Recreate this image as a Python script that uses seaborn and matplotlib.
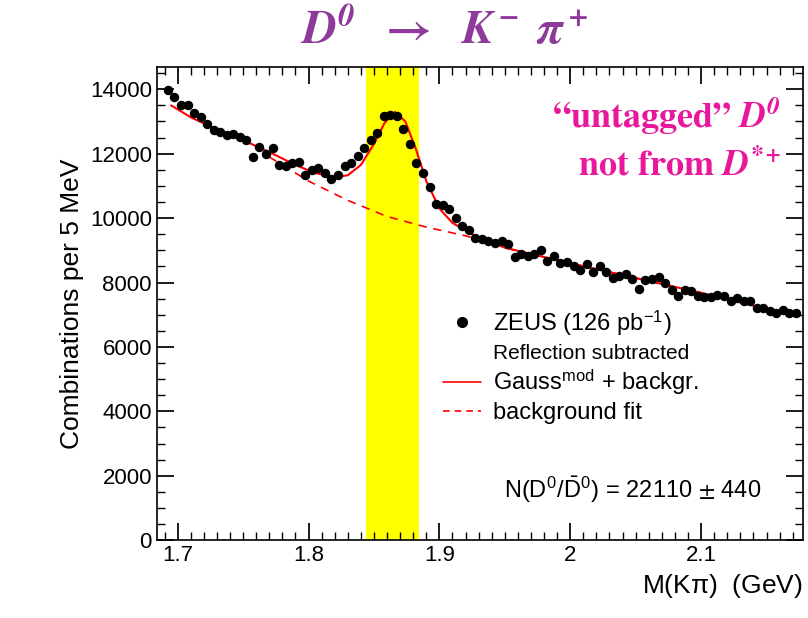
import numpy as np
import matplotlib
matplotlib.use('Agg')
import matplotlib.pyplot as plt
import seaborn as sns
from matplotlib.lines import Line2D
from matplotlib.ticker import MultipleLocator

sns.set_theme(style='ticks')
plt.rcParams['font.family'] = ['Liberation Sans', 'DejaVu Sans']
plt.rcParams['mathtext.fontset'] = 'stix'
plt.rcParams['text.color'] = 'black'
plt.rcParams['axes.labelcolor'] = 'black'
plt.rcParams['xtick.color'] = 'black'
plt.rcParams['ytick.color'] = 'black'
plt.rcParams['axes.edgecolor'] = 'black'

# data: 5 MeV bins
mass = 1.6925 + 0.005 * np.arange(97)
counts = [13978, 13760, 13502, 13502, 13253, 13150, 12932, 12745, 12662, 12590,
          12621, 12506, 12434, 11905, 12195, 11998, 12185, 11656, 11604, 11718,
          11729, 11324, 11490, 11542, 11407, 11200, 11345, 11614, 11697, 11925,
          12164, 12413, 12652, 13170, 13190, 13170, 12776, 12289, 11718, 11407,
          10972, 10432, 10400, 10298, 10007, 9748, 9634, 9395,
          9354, 9281, 9229, 9302, 9198, 8784, 8898, 8815, 8898, 9001,
          8680, 8815, 8607, 8628, 8504, 8379, 8586, 8317, 8524, 8317,
          8141, 8213, 8275, 8110, 7809, 8089, 8120, 8172, 7985, 7756,
          7591, 7756, 7726, 7570, 7550, 7550, 7622, 7591, 7414, 7518,
          7414, 7435, 7207, 7207, 7104, 7052, 7155, 7052, 7052]

fit_x = [1.695, 1.71, 1.73, 1.75, 1.77, 1.79, 1.805, 1.82, 1.83, 1.84, 1.85,
         1.858, 1.866, 1.874, 1.882, 1.89, 1.90, 1.91, 1.925, 1.95, 2.0, 2.05,
         2.1, 2.15]
fit_y = [13500, 13130, 12750, 12420, 12050, 11650, 11400, 11270, 11330, 11650,
         12300, 12950, 13300, 13000, 12150, 11150, 10300, 9850, 9500, 9080,
         8600, 8140, 7680, 7180]
bg_x = [1.77, 1.80, 1.83, 1.86, 1.89, 1.92, 1.95, 2.0, 2.05, 2.1, 2.15]
bg_y = [11900, 11150, 10550, 10050, 9720, 9450, 9080, 8600, 8140, 7680, 7180]

fig = plt.figure(figsize=(8.08, 6.18), dpi=100)
ax = fig.add_axes([0.194, 0.126, 0.8, 0.766])

ax.axvspan(1.844, 1.8845, color='#ffff00', lw=0, zorder=0)
sns.lineplot(x=bg_x, y=bg_y, ax=ax, color='red', lw=1.2, linestyle=(0, (5, 4)))
sns.lineplot(x=fit_x, y=fit_y, ax=ax, color='red', lw=1.5)
ax.errorbar(mass, counts, yerr=110, fmt='o', color='black', ms=5.8,
            elinewidth=1, capsize=0, zorder=3)

ax.set_xlim(1.684, 2.178)
ax.set_ylim(0, 14700)
ax.xaxis.set_minor_locator(MultipleLocator(0.01))
ax.yaxis.set_major_locator(MultipleLocator(2000))
ax.yaxis.set_minor_locator(MultipleLocator(500))
ax.tick_params(which='both', direction='in', top=True, right=True, labelsize=16)
ax.tick_params(which='major', length=12)
ax.tick_params(which='minor', length=6)
ax.set_xticks([1.7, 1.8, 1.9, 2.0, 2.1])
ax.set_xticklabels(['1.7', '1.8', '1.9', '2', '2.1'])
for s in ax.spines.values():
    s.set_linewidth(1.2)
ax.set_ylabel('Combinations per 5 MeV', fontsize=19)
ax.set_xlabel(r'M(K$\mathregular{\pi}$)  (GeV)', fontsize=19, loc='right')

fig.text(0.55, 0.95, r'$\mathbfit{D^0}\ \ \mathbf{\rightarrow}\ \ \mathbfit{K^-\ \pi^+}$',
         color='#8e3a9a', fontsize=34, ha='center', va='center')
ax.text(0.965, 0.87, '\u201cuntagged\u201d $\\mathbfit{D^0}$', color='#e8179b',
        fontsize=26, fontweight='bold', family='STIXGeneral', ha='right',
        transform=ax.transAxes)
ax.text(0.965, 0.77, 'not from $\\mathbfit{D^{*+}}$', color='#e8179b',
        fontsize=26, fontweight='bold', family='STIXGeneral', ha='right',
        transform=ax.transAxes)

handles = [Line2D([], [], marker='o', color='black', ls='', ms=7),
           Line2D([], [], ls=''),
           Line2D([], [], color='red', lw=1.2),
           Line2D([], [], color='red', lw=1.2, ls=(0, (4, 3)))]
labels = [r'ZEUS (126 pb$^{\mathregular{-1}}$)', 'Reflection subtracted',
          r'Gauss$^{\mathregular{mod}}$ + backgr.', 'background fit']
leg = ax.legend(handles, labels, loc='lower left', bbox_to_anchor=(0.41, 0.2),
                frameon=False, fontsize=17, handlelength=1.6, handletextpad=0.5,
                labelspacing=0.2)
leg.get_texts()[1].set_fontsize(15)
ax.text(0.935, 0.09, r'N(D$^{\mathregular{0}}$/$\mathregular{\bar{D}}^{\mathregular{0}}$) = 22110 $\pm$ 440',
        fontsize=17, ha='right', transform=ax.transAxes)

fig.savefig('out.png', dpi=100)
